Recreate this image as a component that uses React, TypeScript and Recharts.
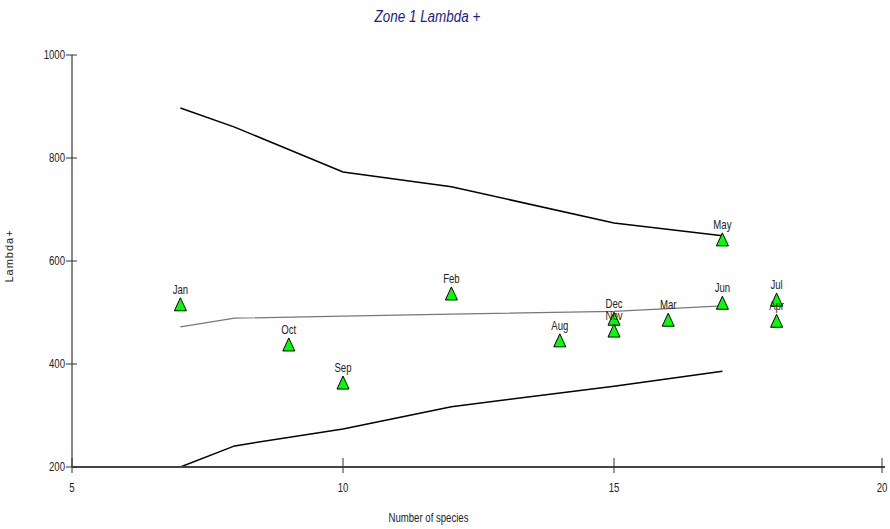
import React from 'react';
import { ComposedChart, XAxis, YAxis, Line, Scatter, LabelList } from 'recharts';

const FONT = "'Liberation Sans', Arial, sans-serif";
const SQUEEZE = 0.8;

const xTicks = [5, 10, 15, 20];
const yTicks = [200, 400, 600, 800, 1000];

const upperSpecies = [7, 8, 10, 12, 15, 17];
const upperLambda = [897, 860, 773, 744, 674, 649];

const meanSpecies = [7, 8, 10, 12, 15, 17];
const meanLambda = [472, 489, 493, 497, 502, 513];

const lowerSpecies = [7, 8, 10, 12, 15, 17];
const lowerLambda = [200, 241, 274, 317, 357, 386];

const months = ['Jan', 'Oct', 'Sep', 'Feb', 'Aug', 'Dec', 'Nov', 'Mar', 'May', 'Jun', 'Jul', 'Apr'];
const monthSpecies = [7, 9, 10, 12, 14, 15, 15, 16, 17, 17, 18, 18];
const monthLambda = [515, 437, 363, 536, 445, 487, 464, 485, 641, 518, 524, 483];

const toSeries = (xs: number[], ys: number[]) => xs.map((x, i) => ({ x, y: ys[i] }));

const upper = toSeries(upperSpecies, upperLambda);
const mean = toSeries(meanSpecies, meanLambda);
const lower = toSeries(lowerSpecies, lowerLambda);
const points = months.map((name, i) => ({ x: monthSpecies[i], y: monthLambda[i], name }));

// Horizontally condensed text, anchored at (x, y)
const NarrowText = ({ x, y, anchor = 'middle', size = 12, children }: any) => (
  <text
    transform={`translate(${x}, ${y}) scale(${SQUEEZE}, 1)`}
    x={0}
    y={0}
    textAnchor={anchor}
    fontSize={size}
    fill="#222"
    fontFamily={FONT}
  >
    {children}
  </text>
);

const Triangle = (props: any) => {
  const { cx, cy } = props;
  if (cx == null || cy == null) return null;
  return (
    <polygon
      points={`${cx},${cy - 7} ${cx - 6},${cy + 6} ${cx + 6},${cy + 6}`}
      fill="#00ff00"
      stroke="#000"
      strokeWidth={1}
    />
  );
};

const YTick = (props: any) => {
  const { x, y, payload } = props;
  return (
    <g>
      <line x1={x - 6} x2={x + 5} y1={y} y2={y} stroke="#333" strokeWidth={1} />
      <NarrowText x={x - 7} y={y + 4} anchor="end">
        {payload.value}
      </NarrowText>
    </g>
  );
};

const XTick = (props: any) => {
  const { x, y, payload } = props;
  return (
    <g>
      <line x1={x} x2={x} y1={y - 9} y2={y + 6} stroke="#333" strokeWidth={1} />
      <NarrowText x={x} y={y + 25}>
        {payload.value}
      </NarrowText>
    </g>
  );
};

export default function App() {
  return (
    <div style={{ position: 'absolute', left: 0, top: 0, width: 890, height: 529, background: '#fff' }}>
      <div
        style={{
          position: 'absolute',
          left: 0,
          top: 8,
          width: 855,
          textAlign: 'center',
          fontFamily: FONT,
          fontStyle: 'italic',
          fontSize: 16,
          color: '#1c1c8c',
          transform: 'scaleX(0.84)',
          transformOrigin: '427px 0',
        }}
      >
        Zone 1 Lambda +
      </div>
      <ComposedChart width={890} height={529} margin={{ top: 55, right: 5, bottom: 0, left: 0 }}>
        <XAxis
          type="number"
          dataKey="x"
          domain={[5, 20]}
          ticks={xTicks}
          allowDataOverflow
          height={62}
          tickSize={0}
          tickMargin={0}
          tick={<XTick />}
          stroke="#444"
          strokeWidth={2}
          label={(p: any) => {
            const vb = p.viewBox || {};
            return (
              <NarrowText x={vb.x + vb.width / 2 - 50} y={vb.y + 55}>
                Number of species
              </NarrowText>
            );
          }}
        />
        <YAxis
          type="number"
          domain={[200, 1000]}
          ticks={yTicks}
          allowDataOverflow
          width={72}
          tickSize={0}
          tickMargin={0}
          tick={<YTick />}
          stroke="#888"
          strokeWidth={2}
          label={(p: any) => {
            const vb = p.viewBox || {};
            const cx = 13;
            const cy = vb.y + vb.height / 2 - 5;
            return (
              <text
                x={cx}
                y={cy}
                transform={`rotate(-90, ${cx}, ${cy})`}
                textAnchor="middle"
                fontSize={11}
                letterSpacing={1}
                fill="#222"
                fontFamily={FONT}
              >
                Lambda+
              </text>
            );
          }}
        />
        <Line data={upper} dataKey="y" type="linear" stroke="#000" strokeWidth={1.5} dot={false} isAnimationActive={false} />
        <Line data={mean} dataKey="y" type="linear" stroke="#777" strokeWidth={1.2} dot={false} isAnimationActive={false} />
        <Line data={lower} dataKey="y" type="linear" stroke="#000" strokeWidth={1.5} dot={false} isAnimationActive={false} />
        <Scatter data={points} dataKey="y" shape={<Triangle />} isAnimationActive={false}>
          <LabelList
            dataKey="name"
            content={(p: any) => (
              <NarrowText x={p.x + (p.width || 0) / 2} y={p.y + (p.height || 0) / 2 - 11}>
                {p.value}
              </NarrowText>
            )}
          />
        </Scatter>
      </ComposedChart>
    </div>
  );
}
